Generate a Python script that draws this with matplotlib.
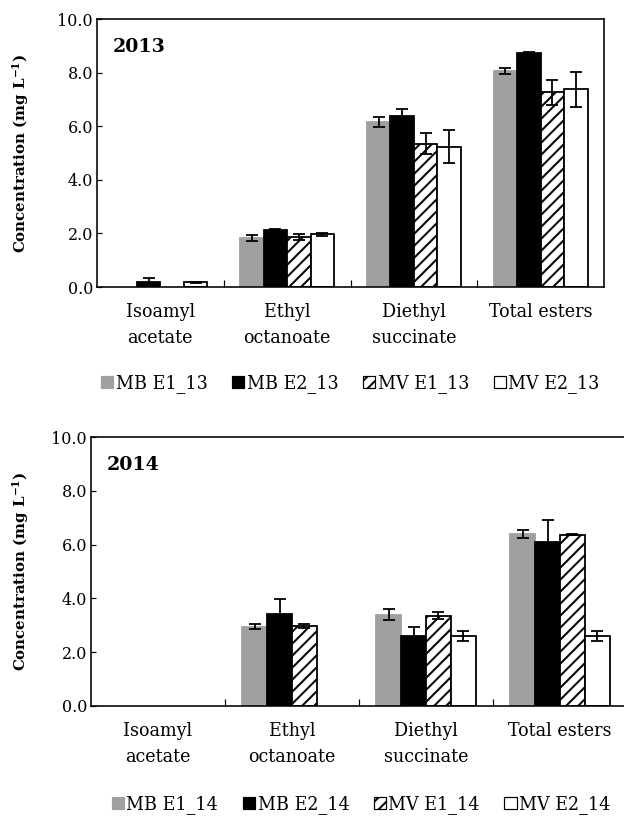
import numpy as np
import matplotlib
matplotlib.use('Agg')
import matplotlib.pyplot as plt
from matplotlib.patches import Patch
from matplotlib.ticker import FormatStrFormatter

plt.rcParams['font.family'] = 'DejaVu Serif'
plt.rcParams['mathtext.fontset'] = 'dejavuserif'
plt.rcParams['hatch.linewidth'] = 2.0

nan = np.nan
categories = ['Isoamyl\nacetate', 'Ethyl\noctanoate', 'Diethyl\nsuccinate', 'Total esters']

# 2013 (mg/L), mean and error
mb_e1_13 = [nan, 1.83, 6.16, 8.06]
mb_e2_13 = [0.17, 2.14, 6.38, 8.72]
mv_e1_13 = [nan, 1.86, 5.35, 7.26]
mv_e2_13 = [0.17, 1.96, 5.23, 7.37]
mb_e1_13_err = [nan, 0.12, 0.20, 0.10]
mb_e2_13_err = [0.15, 0.04, 0.25, 0.06]
mv_e1_13_err = [nan, 0.10, 0.38, 0.47]
mv_e2_13_err = [0.03, 0.04, 0.62, 0.66]
labels_13 = ['MB E1_13', 'MB E2_13', 'MV E1_13', 'MV E2_13']

# 2014
mb_e1_14 = [nan, 2.95, 3.40, 6.39]
mb_e2_14 = [nan, 3.42, 2.62, 6.09]
mv_e1_14 = [nan, 2.98, 3.35, 6.36]
mv_e2_14 = [nan, nan, 2.61, 2.61]
mb_e1_14_err = [nan, 0.09, 0.19, 0.14]
mb_e2_14_err = [nan, 0.54, 0.30, 0.84]
mv_e1_14_err = [nan, 0.07, 0.13, 0.02]
mv_e2_14_err = [nan, nan, 0.19, 0.19]
labels_14 = ['MB E1_14', 'MB E2_14', 'MV E1_14', 'MV E2_14']

styles = [
    dict(facecolor='#a0a0a0', edgecolor='#a0a0a0'),
    dict(facecolor='black', edgecolor='black'),
    dict(facecolor='white', edgecolor='black', hatch='//'),
    dict(facecolor='white', edgecolor='black'),
]


def draw_panel(ax, series, errors, labels, year, leg_xy, ylabel_pad):
    x = np.arange(len(categories))
    w = 0.185
    offsets = np.array([-1.5, -0.5, 0.5, 1.5]) * w
    for vals, errs, off, st in zip(series, errors, offsets, styles):
        ax.bar(x + off, vals, w, linewidth=1.8, zorder=2, **st)
        ax.errorbar(x + off, vals, yerr=errs, fmt='none', ecolor='black',
                    elinewidth=1.8, capsize=6, capthick=1.8, zorder=3)

    ax.set_xlim(-0.5, 3.5)
    ax.set_ylim(0, 10)
    ax.set_yticks(np.arange(0, 10.1, 2))
    ax.yaxis.set_major_formatter(FormatStrFormatter('%.1f'))
    ax.tick_params(axis='y', direction='in', length=5, width=1.2, labelsize=16, pad=4)
    ax.set_xticks(x)
    ax.set_xticklabels(categories, fontsize=17.5, linespacing=1.55)
    ax.tick_params(axis='x', which='major', length=0, pad=16)
    ax.set_xticks([0.5, 1.5, 2.5], minor=True)
    ax.tick_params(axis='x', which='minor', direction='in', length=7, width=1.2)
    for sp in ax.spines.values():
        sp.set_linewidth(1.6)

    ax.set_ylabel(r'Concentration (mg L$^{\mathbf{-1}}$)', fontweight='bold',
                  fontsize=15, labelpad=ylabel_pad)
    ax.text(0.03, 0.93, year, transform=ax.transAxes, fontweight='bold',
            fontsize=19, va='top')

    handles = [Patch(linewidth=1.2, **st) for st in styles]
    ax.legend(handles, labels, loc='center', bbox_to_anchor=leg_xy, ncol=4,
              frameon=False, fontsize=17.5, handlelength=0.69, handleheight=0.69,
              handletextpad=0.15, columnspacing=1.4)


fig = plt.figure(figsize=(624 / 72, 816 / 72), dpi=72)

ax1 = fig.add_axes([97 / 624, 1 - 287 / 816, 507 / 624, 268 / 816])
draw_panel(ax1,
           [mb_e1_13, mb_e2_13, mv_e1_13, mv_e2_13],
           [mb_e1_13_err, mb_e2_13_err, mv_e1_13_err, mv_e2_13_err],
           labels_13, '2013', (0.5, -0.36), 26)

# lower panel runs a little past the right edge of the page
ax2 = fig.add_axes([91 / 624, 1 - 706 / 816, 536 / 624, 269 / 816])
draw_panel(ax2,
           [mb_e1_14, mb_e2_14, mv_e1_14, mv_e2_14],
           [mb_e1_14_err, mb_e2_14_err, mv_e1_14_err, mv_e2_14_err],
           labels_14, '2014', (0.504, -0.368), 20)

fig.savefig('out.png', dpi=72)
